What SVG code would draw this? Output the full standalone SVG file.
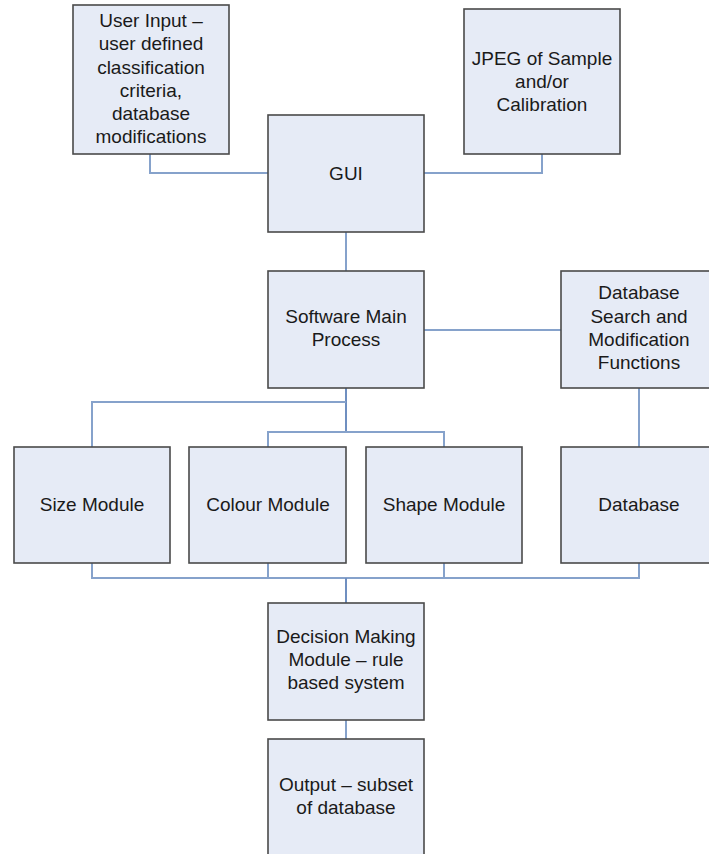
<svg xmlns="http://www.w3.org/2000/svg" width="709" height="854" viewBox="0 0 709 854">
<style>
.box{fill:#e6ebf6;stroke:#4a4a4a;stroke-width:1.6}
.t{font-family:"Liberation Sans",Arial,sans-serif;font-size:19px;fill:#1a1a1a;text-anchor:middle}
.c{fill:none;stroke:#86a2cb;stroke-width:2}
.trunk{fill:none;stroke:#6f8fc0;stroke-width:2}
</style>
<rect width="709" height="854" fill="#ffffff"/>
<g id="connectors">
<polyline class="c" points="150,154 150,173 268,173"/>
<polyline class="c" points="542,154 542,173 424,173"/>
<line class="c" x1="346" y1="232" x2="346" y2="271"/>
<line class="c" x1="424" y1="330" x2="561" y2="330"/>
<line class="c" x1="639" y1="388" x2="639" y2="447"/>
<polyline class="trunk" points="346,388 346,432"/>
<polyline class="c" points="92,447 92,402 346,402"/>
<polyline class="c" points="268,447 268,432 444,432 444,447"/>
<polyline class="c" points="92,563 92,578 639,578 639,563"/>
<line class="c" x1="268" y1="563" x2="268" y2="578"/>
<line class="c" x1="444" y1="563" x2="444" y2="578"/>
<line class="trunk" x1="346" y1="578" x2="346" y2="603"/>
<line class="c" x1="346" y1="720" x2="346" y2="739"/>
</g>
<g id="user-input">
<rect class="box" x="73" y="5" width="156" height="149"/>
<text class="t" x="151"><tspan x="151" y="27">User Input –</tspan><tspan x="151" y="50">user defined</tspan><tspan x="151" y="73.5">classification</tspan><tspan x="151" y="97">criteria,</tspan><tspan x="151" y="120">database</tspan><tspan x="151" y="143">modifications</tspan></text>
</g>
<g id="jpeg">
<rect class="box" x="464" y="9" width="156" height="145"/>
<text class="t"><tspan x="542" y="65">JPEG of Sample</tspan><tspan x="542" y="88">and/or</tspan><tspan x="542" y="111">Calibration</tspan></text>
</g>
<g id="gui">
<rect class="box" x="268" y="115" width="156" height="117"/>
<text class="t" x="346" y="180">GUI</text>
</g>
<g id="main-process">
<rect class="box" x="268" y="271" width="156" height="117"/>
<text class="t"><tspan x="346" y="323">Software Main</tspan><tspan x="346" y="346">Process</tspan></text>
</g>
<g id="db-search">
<rect class="box" x="561" y="271" width="156" height="117"/>
<text class="t"><tspan x="639" y="299">Database</tspan><tspan x="639" y="323">Search and</tspan><tspan x="639" y="346">Modification</tspan><tspan x="639" y="369">Functions</tspan></text>
</g>
<g id="size-module">
<rect class="box" x="14" y="447" width="156" height="116"/>
<text class="t" x="92" y="511">Size Module</text>
</g>
<g id="colour-module">
<rect class="box" x="189" y="447" width="157" height="116"/>
<text class="t" x="268" y="511">Colour Module</text>
</g>
<g id="shape-module">
<rect class="box" x="366" y="447" width="156" height="116"/>
<text class="t" x="444" y="511">Shape Module</text>
</g>
<g id="database">
<rect class="box" x="561" y="447" width="156" height="116"/>
<text class="t" x="639" y="511">Database</text>
</g>
<g id="decision">
<rect class="box" x="268" y="603" width="156" height="117"/>
<text class="t"><tspan x="346" y="643">Decision Making</tspan><tspan x="346" y="666">Module – rule</tspan><tspan x="346" y="689">based system</tspan></text>
</g>
<g id="output">
<rect class="box" x="268" y="739" width="156" height="117"/>
<text class="t"><tspan x="346" y="791">Output – subset</tspan><tspan x="346" y="814">of database</tspan></text>
</g>
</svg>
